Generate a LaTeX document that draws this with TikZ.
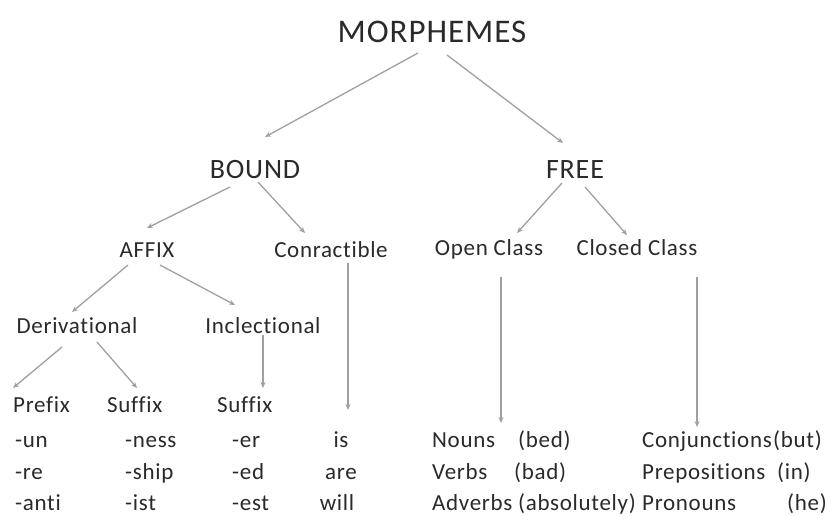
\documentclass[tikz,border=0pt]{standalone}
\usepackage{fontspec}
\setmainfont{Carlito}[LetterSpace=3,Ligatures=NoCommon]
\usetikzlibrary{arrows.meta,calc}
\definecolor{txt}{HTML}{2A2A2A}
\definecolor{arr}{HTML}{A0A0A0}
\tikzset{
  lbl/.style={inner sep=0pt,text=txt,anchor=base,font=\fontsize{#1}{#1}\selectfont},
  lbl/.default=23,
  wl/.style={inner sep=0pt,text=txt,anchor=base west,font=\fontsize{23}{23}\selectfont},
  arrow/.style={draw=arr,line width=1.3pt,-{Stealth[length=6pt,width=5pt]}}
}
\begin{document}
\begin{tikzpicture}[x=1pt,y=-1pt]
\useasboundingbox[fill=white] (0,0) rectangle (830,515);
% upper levels
\node[lbl=33] (mor) at (432,42) {MORPHEMES};
\node[lbl=28] (bound) at (255,178) {BOUND};
\node[lbl=28] (free) at (575,178) {FREE};
\node[lbl] (affix) at (147,257) {AFFIX};
\node[lbl] (conr) at (331,257) {Conractible};
\node[lbl] (open) at (489,255) {Open Class};
\node[lbl] (closed) at (637,255) {Closed Class};
\node[lbl] (deriv) at (77,333) {Derivational};
\node[lbl] (infl) at (263,333) {Inclectional};
% bottom left
\node[wl] (prefix) at (13,412) {Prefix};
\node[wl] (suf1) at (107,412) {Suffix};
\node[wl] (suf2) at (217,412) {Suffix};
\node[wl] (un) at (15,447) {-un};
\node[wl] (re) at (15,479) {-re};
\node[wl] (anti) at (15,510) {-anti};
\node[wl] (ness) at (125,447) {-ness};
\node[wl] (ship) at (125,479) {-ship};
\node[wl] (ist) at (125,510) {-ist};
\node[wl] (er) at (232,447) {-er};
\node[wl] (ed) at (232,479) {-ed};
\node[wl] (est) at (232,510) {-est};
\node[lbl] (is) at (341,447) {is};
\node[lbl] (are) at (341,479) {are};
\node[lbl] (will) at (337,510) {will};
% bottom right
\node[wl] (nouns) at (432,447) {Nouns};
\node[wl] (bed) at (518,447) {(bed)};
\node[wl] (verbs) at (432,479) {Verbs};
\node[wl] (bad) at (514,479) {(bad)};
\node[wl] (adverbs) at (432,510) {Adverbs (absolutely)};
\node[wl] (conj) at (642,447) {Conjunctions};
\node[wl] (but) at (773,447) {(but)};
\node[wl] (prep) at (642,479) {Prepositions};
\node[wl] (in) at (777,479) {(in)};
\node[wl] (pron) at (642,510) {Pronouns};
\node[wl] (he) at (787,510) {(he)};
% connectors
\draw[arrow] ($(mor.base)+(-14,11)$) -- ($(bound.base)+(10,-41)$);
\draw[arrow] ($(mor.base)+(15,13)$) -- ($(free.base)+(-12,-35)$);
\draw[arrow] ($(bound.base)+(-25,9)$) -- ($(affix.base)+(0,-29)$);
\draw[arrow] ($(bound.base)+(3,4)$) -- ($(conr.base)+(-26,-24)$);
\draw[arrow] ($(affix.base)+(-19,8)$) -- ($(deriv.base)+(-5,-21)$);
\draw[arrow] ($(affix.base)+(13,8)$) -- ($(infl.base)+(-28,-28)$);
\draw[arrow] ($(deriv.base)+(-15,14)$) -- ($(prefix.base west)+(0,-24)$);
\draw[arrow] ($(deriv.base)+(20,9)$) -- ($(suf1.base west)+(30,-24)$);
\draw[arrow] ($(infl.base)+(0,2)$) -- ($(suf2.base west)+(46,-24)$);
\draw[arrow] ($(conr.base)+(17,6)$) -- ($(is.base)+(7,-37)$);
\draw[arrow] ($(free.base)+(-13,5)$) -- ($(open.base)+(28,-22)$);
\draw[arrow] ($(free.base)+(10,9)$) -- ($(closed.base)+(-10,-20)$);
\draw[arrow] ($(open.base)+(12,22)$) -- ($(nouns.base west)+(69,-24)$);
\draw[arrow] ($(closed.base)+(60,22)$) -- ($(conj.base west)+(55,-20)$);
\end{tikzpicture}
\end{document}
